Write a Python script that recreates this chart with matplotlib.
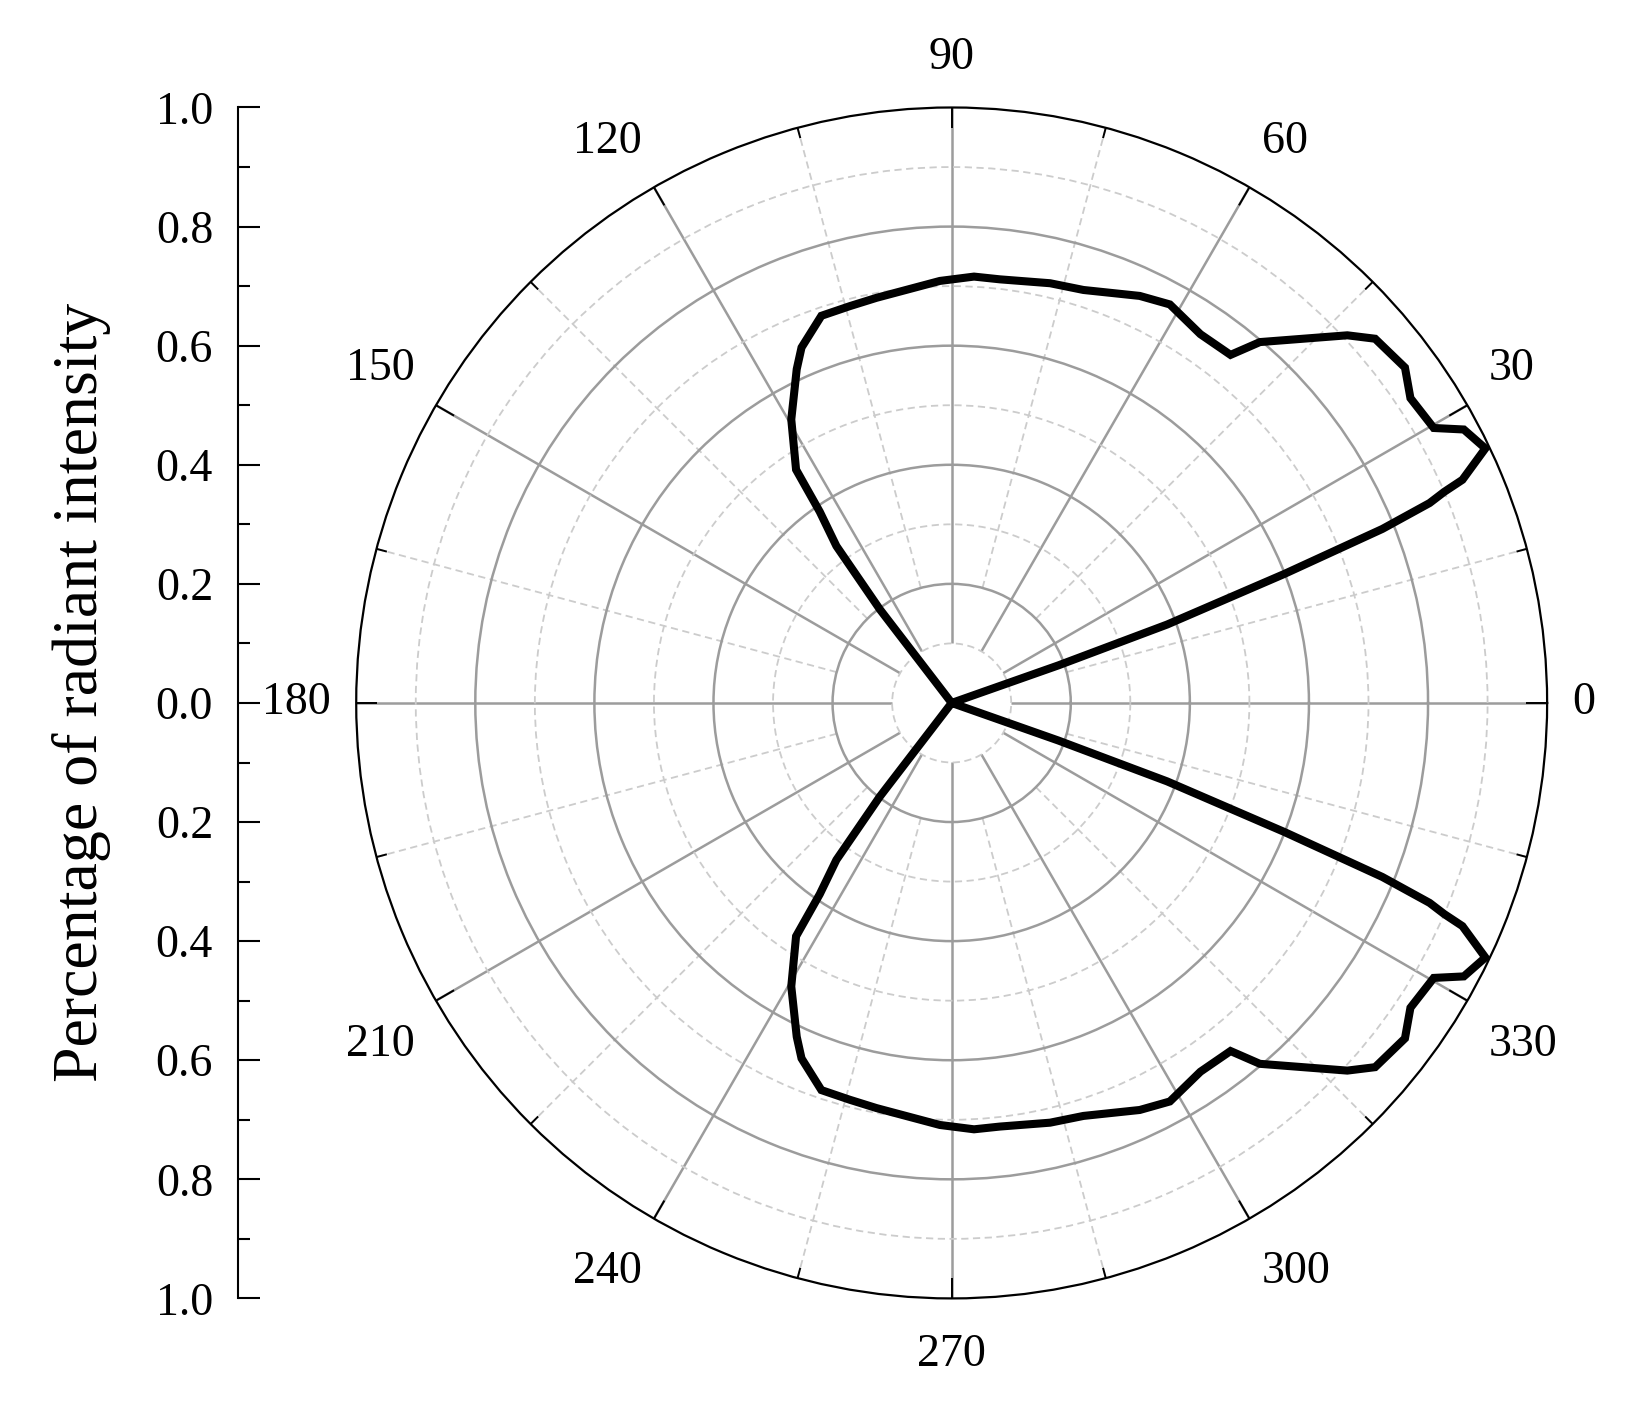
import numpy as np
import matplotlib
matplotlib.use('Agg')
import matplotlib.pyplot as plt
import matplotlib.transforms as mtransforms
from matplotlib.ticker import MultipleLocator

plt.rcParams['font.family'] = ['Liberation Serif', 'DejaVu Serif']

# upper lobe, angle (deg) and relative radiant intensity
theta_upper = [19.5, 19.4, 20.0, 21.2, 22.0, 22.7, 23.2, 23.6, 25.5, 28.1, 29.7, 33.6,
               36.5, 40.7, 42.9, 49.5, 51.3, 56.0, 61.3, 65.2, 72.3, 76.8, 83.5, 87.0,
               91.6, 100.5, 104.4, 108.6, 112.9, 114.9, 119.5, 123.7, 124.6, 126.3, 127.5, 128.0]
r_upper = [0.0, 0.19, 0.385, 0.60, 0.78, 0.87, 0.90, 0.936, 0.993, 0.975, 0.932, 0.925,
           0.947, 0.938, 0.907, 0.797, 0.749, 0.747, 0.763, 0.753, 0.728, 0.724, 0.716, 0.717,
           0.709, 0.692, 0.688, 0.686, 0.648, 0.618, 0.547, 0.471, 0.39, 0.327, 0.198, 0.0]

# lower lobe
theta_lower = [232.0, 232.5, 233.7, 235.4, 236.3, 240.5, 245.1, 247.1, 251.4, 255.6, 259.5, 268.4,
               273.0, 276.5, 283.2, 287.7, 294.8, 298.7, 304.0, 308.7, 310.5, 317.1, 319.3, 323.5,
               326.4, 330.3, 331.9, 334.5, 336.4, 336.8, 337.3, 338.0, 338.8, 340.0, 340.6, 340.5]
r_lower = [0.0, 0.198, 0.327, 0.39, 0.471, 0.547, 0.618, 0.648, 0.686, 0.688, 0.692, 0.709,
           0.717, 0.716, 0.724, 0.728, 0.753, 0.763, 0.747, 0.749, 0.797, 0.907, 0.938, 0.947,
           0.925, 0.932, 0.975, 0.993, 0.936, 0.90, 0.87, 0.78, 0.60, 0.385, 0.19, 0.0]

angle_labels = list(range(0, 360, 30))
angle_minor = list(range(15, 360, 30))
r_major = [0.2, 0.4, 0.6, 0.8]
r_minor = [0.1, 0.3, 0.5, 0.7, 0.9]
axis_ticks = [-1.0, -0.8, -0.6, -0.4, -0.2, 0.0, 0.2, 0.4, 0.6, 0.8, 1.0]

solid_grey = '#9c9c9c'
dash_grey = '#cccccc'
dash = (0, (4, 2.5))

fig = plt.figure(figsize=(16.37, 14.01), dpi=100)
bottom, height = 0.0732, 0.8501

ax = fig.add_axes([0.2176, bottom, 0.7275, height], projection='polar')
ax.set_ylim(0, 1)
ax.set_yticks(r_major)
ax.set_yticks(r_minor, minor=True)
ax.set_yticklabels([])
ax.tick_params(axis='y', which='both', length=0)
ax.yaxis.grid(True, which='major', color=solid_grey, lw=1.8, ls='-')
ax.yaxis.grid(True, which='minor', color=dash_grey, lw=1.3, ls=dash)
ax.xaxis.grid(False)

ax.set_xticks(np.deg2rad(angle_labels))
ax.set_xticklabels([])
ax.tick_params(axis='x', which='both', length=0)

# radial grid lines do not reach the centre
ax.vlines(np.deg2rad(angle_labels), 0.1, 1.0, color=solid_grey, lw=1.8, zorder=1)
ax.vlines(np.deg2rad(angle_minor), 0.2, 1.0, color=dash_grey, lw=1.3, linestyles=[dash], zorder=1)

# inward ticks on the outer circle
ax.vlines(np.deg2rad(angle_labels), 0.965, 1.0, color='black', lw=1.4, zorder=2)
ax.vlines(np.deg2rad(angle_minor), 0.982, 1.0, color='black', lw=1.4, zorder=2)

ax.plot(np.deg2rad(theta_upper + theta_lower), r_upper + r_lower, color='black', lw=5.8,
        solid_joinstyle='miter', zorder=3)

ax.spines['polar'].set_linewidth(1.6)
ax.spines['polar'].set_color('black')

gap = 0.25
for a in angle_labels:
    t = np.deg2rad(a)
    c, s = np.cos(t), np.sin(t)
    ha = 'left' if c > 0.1 else ('right' if c < -0.1 else 'center')
    va = 'bottom' if s > 0.1 else ('top' if s < -0.1 else 'center')
    dy = gap * s
    if s > 0.1:
        dy += 0.03
    elif s < -0.1:
        dy -= 0.1
    off = mtransforms.ScaledTranslation(gap * c, dy, fig.dpi_scale_trans)
    ax.text(t, 1.0, str(a), transform=ax.transData + off, ha=ha, va=va,
            fontsize=33, clip_on=False)

# left scale: 1.0 .. 0.0 .. 1.0
lax = fig.add_axes([238 / 1637, bottom, 0.0005, height])
lax.set_ylim(-1, 1)
for side in ['top', 'right', 'bottom']:
    lax.spines[side].set_visible(False)
lax.spines['left'].set_linewidth(1.5)
lax.set_xticks([])
lax.set_yticks(axis_ticks)
lax.set_yticklabels(['%.1f' % abs(v) for v in axis_ticks])
lax.yaxis.set_minor_locator(MultipleLocator(0.1))
lax.tick_params(axis='y', which='major', direction='in', length=16, width=1.5, pad=18, labelsize=33)
lax.tick_params(axis='y', which='minor', direction='in', length=8.5, width=1.5)
lax.patch.set_visible(False)

fig.text(82 / 1637, 0.506, 'Percentage of radiant intensity', rotation=90,
         ha='center', va='center', fontsize=46)

fig.savefig('out.png', dpi=100)
